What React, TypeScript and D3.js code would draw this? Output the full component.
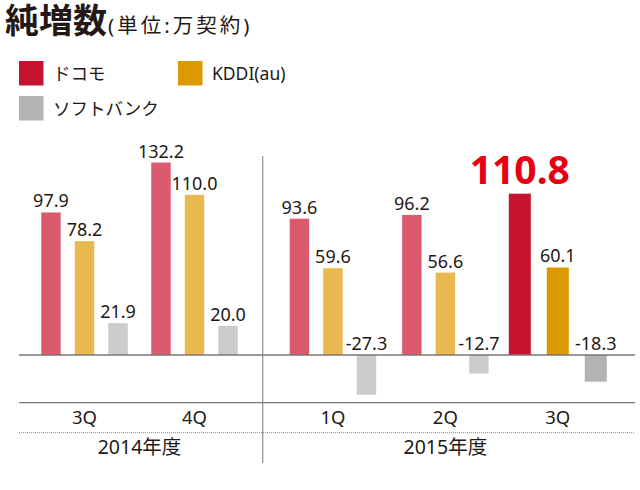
import React, { Component } from 'react';
import * as d3 from 'd3';

const carriers = ['ドコモ', 'KDDI(au)', 'ソフトバンク'];
const quarterLabels = ['3Q', '4Q', '1Q', '2Q', '3Q'];
const periodYears = ['2014年度', '2014年度', '2015年度', '2015年度', '2015年度'];
const years = ['2014年度', '2015年度'];
const docomoValues = [97.9, 132.2, 93.6, 96.2, 110.8];
const kddiValues = [78.2, 110.0, 59.6, 56.6, 60.1];
const softbankValues = [21.9, 20.0, -27.3, -12.7, -18.3];

const seriesValues = [docomoValues, kddiValues, softbankValues];
const normalColours = ['#db5a6e', '#e9b94f', '#cccccc'];
const strongColours = ['#c8132f', '#dc9a00', '#b3b3b3'];

export interface Datum {
    period: number,
    series: number,
    value: number
}

export default class App extends Component {
    private canvas: any;
    private width: number;
    private height: number;

    constructor(props: any) {
        super(props);
        this.canvas = React.createRef();
        this.width = 640;
        this.height = 490;
    }

    componentDidMount() {
        this.buildChart();
    }

    buildChart = () => {
        const font = '"Noto Sans", "Noto Sans CJK JP", sans-serif';
        const ink = '#231815';
        const highlight = docomoValues.length - 1;
        const fmt = d3.formatLocale({ decimal: '.', thousands: ',', grouping: [3], currency: ['', ''], minus: '-' }).format('.1f');

        d3.select(this.canvas.current).selectAll('*').remove();
        const svg = d3.select(this.canvas.current)
            .append('svg')
            .attr('width', this.width)
            .attr('height', this.height)
            .style('position', 'absolute')
            .style('left', 0)
            .style('top', 0)
            .style('font-family', font);

        const left = 19;
        const right = 635;
        const divider = 262.75;
        const axisY = 402.7;
        const dottedY = 432.7;

        const yScale = d3.scaleLinear()
            .domain([-30, 140])
            .range([355 + 30 * 1.456, 355 - 140 * 1.456]);

        // one band scale per fiscal year
        const periods = d3.range(quarterLabels.length);
        const xYear: Record<string, d3.ScaleBand<number>> = {
            [years[0]]: d3.scaleBand<number>()
                .domain(periods.filter(i => periodYears[i] === years[0]))
                .range([29.5, divider - 13.25]),
            [years[1]]: d3.scaleBand<number>()
                .domain(periods.filter(i => periodYears[i] === years[1]))
                .range([divider + 14, 614])
        };
        const groupCenter = (p: number) => {
            const s = xYear[periodYears[p]];
            return (s(p) as number) + s.bandwidth() / 2;
        };
        const inner = (p: number) => {
            const half = p === highlight ? 49 : 43.25;
            return d3.scaleBand<number>()
                .domain(d3.range(carriers.length))
                .range([-half, half])
                .paddingInner(0.42)
                .paddingOuter(0);
        };

        const data: Datum[] = [];
        periods.forEach(p => {
            seriesValues.forEach((vals, s) => {
                data.push({ period: p, series: s, value: vals[p] });
            });
        });

        // Title
        const title = svg.append('text')
            .attr('x', 5)
            .attr('y', 33)
            .attr('fill', ink);
        title.append('tspan')
            .attr('font-size', 34)
            .attr('font-weight', 'bold')
            .text('純増数');
        title.append('tspan')
            .attr('font-size', 20.5)
            .attr('dx', 1)
            .attr('letter-spacing', 3)
            .text('(単位:万契約)');

        // Legend
        const legendPos = [[19, 61], [178, 61], [19, 96]];
        carriers.forEach((c, i) => {
            svg.append('rect')
                .attr('x', legendPos[i][0])
                .attr('y', legendPos[i][1])
                .attr('width', 24.5)
                .attr('height', 24.5)
                .attr('fill', strongColours[i]);
            svg.append('text')
                .attr('x', legendPos[i][0] + 34)
                .attr('y', legendPos[i][1] + 12.5)
                .attr('dy', '0.36em')
                .attr('font-size', 17.5)
                .attr('fill', ink)
                .text(c);
        });

        // Bars
        svg.selectAll('.bar')
            .data(data)
            .enter()
            .append('rect')
            .attr('class', 'bar')
            .attr('x', (d: Datum) => groupCenter(d.period) + (inner(d.period)(d.series) as number))
            .attr('width', (d: Datum) => inner(d.period).bandwidth())
            .attr('y', (d: Datum) => yScale(Math.max(0, d.value)))
            .attr('height', (d: Datum) => Math.abs(yScale(d.value) - yScale(0)))
            .attr('fill', (d: Datum) => d.period === highlight ? strongColours[d.series] : normalColours[d.series]);

        // Value labels
        svg.selectAll('.valueLabel')
            .data(data)
            .enter()
            .append('text')
            .attr('class', 'valueLabel')
            .attr('text-anchor', 'middle')
            .attr('x', (d: Datum) => groupCenter(d.period) + (inner(d.period)(d.series) as number) + inner(d.period).bandwidth() / 2)
            .attr('y', (d: Datum) => {
                const big = d.period === highlight && d.series === 0;
                return yScale(Math.max(0, d.value)) - (big ? 9.5 : 5);
            })
            .attr('font-size', (d: Datum) => d.period === highlight && d.series === 0 ? 39 : 18)
            .attr('font-weight', (d: Datum) => d.period === highlight && d.series === 0 ? 'bold' : 'normal')
            .attr('fill', (d: Datum) => d.period === highlight && d.series === 0 ? '#e60012' : ink)
            .text((d: Datum) => fmt(d.value));

        // Axis lines
        svg.append('line')
            .attr('x1', left).attr('x2', right)
            .attr('y1', yScale(0)).attr('y2', yScale(0))
            .attr('stroke', '#777777').attr('stroke-width', 1.3);
        svg.append('line')
            .attr('x1', left).attr('x2', right)
            .attr('y1', axisY).attr('y2', axisY)
            .attr('stroke', '#777777').attr('stroke-width', 1.3);
        svg.append('line')
            .attr('x1', left).attr('x2', right)
            .attr('y1', dottedY).attr('y2', dottedY)
            .attr('stroke', '#888888').attr('stroke-width', 1)
            .attr('stroke-dasharray', '1,1');
        svg.append('line')
            .attr('x1', divider).attr('x2', divider)
            .attr('y1', 156).attr('y2', 463)
            .attr('stroke', '#777777').attr('stroke-width', 1);

        // Quarter labels
        svg.selectAll('.xLabel')
            .data(periods)
            .enter()
            .append('text')
            .attr('class', 'xLabel')
            .attr('text-anchor', 'middle')
            .attr('x', (p: number) => groupCenter(p))
            .attr('y', 424)
            .attr('font-size', 18.5)
            .attr('fill', ink)
            .text((p: number) => quarterLabels[p]);

        // Year labels
        svg.selectAll('.yearLabel')
            .data(years)
            .enter()
            .append('text')
            .attr('class', 'yearLabel')
            .attr('text-anchor', 'middle')
            .attr('x', (y: string) => {
                const r = xYear[y].range();
                return (r[0] + r[1]) / 2;
            })
            .attr('y', 454)
            .attr('font-size', 19.5)
            .attr('fill', ink)
            .text((y: string) => y);
    }

    render() {
        return (
            <div>
                <div className="netAdds" ref={this.canvas}></div>
            </div>
        )
    }
}
